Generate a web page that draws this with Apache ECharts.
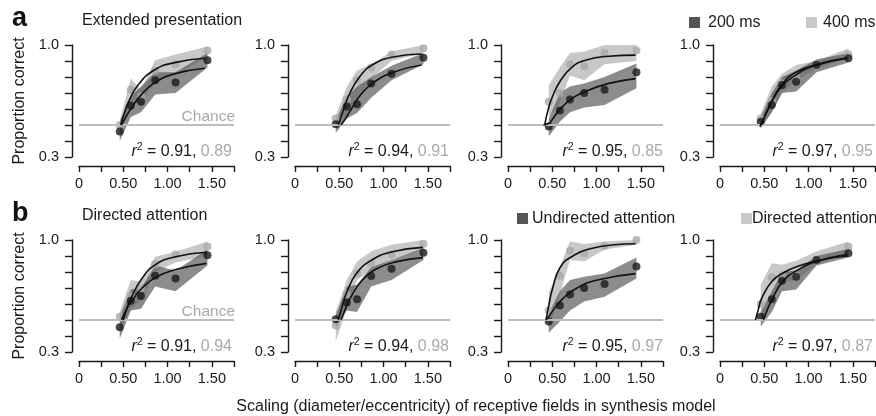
<!DOCTYPE html>
<html>
<head>
<meta charset="utf-8">
<script src="https://cdn.jsdelivr.net/npm/echarts@6/dist/echarts.min.js"></script>
<style>
  html, body { margin: 0; padding: 0; background: #fff; }
  #chart { width: 876px; height: 416px; }
</style>
</head>
<body>
<div id="chart"></div>
<script>
// scaling values where the observers were tested (same for every panel)
var scaling = [0.46, 0.585, 0.70, 0.86, 1.09, 1.45];
var chance = 0.5;

// panels in order a1..a4, b1..b4 ; "dark" = 200 ms / undirected, "light" = 400 ms / directed
var darkPts = [
  [0.46, 0.62, 0.645, 0.78, 0.765, 0.905],
  [0.505, 0.615, 0.63, 0.76, 0.82, 0.92],
  [0.49, 0.59, 0.66, 0.70, 0.72, 0.83],
  [0.52, 0.625, 0.75, 0.77, 0.875, 0.917],
  [0.455, 0.62, 0.65, 0.777, 0.76, 0.904],
  [0.504, 0.61, 0.63, 0.775, 0.82, 0.92],
  [0.49, 0.59, 0.66, 0.70, 0.725, 0.835],
  [0.52, 0.63, 0.745, 0.77, 0.875, 0.917]
];
var darkHi = [
  [0.52, 0.68, 0.74, 0.83, 0.83, 0.95],
  [0.53, 0.68, 0.74, 0.80, 0.87, 0.95],
  [0.54, 0.70, 0.74, 0.76, 0.80, 0.885],
  [0.55, 0.70, 0.80, 0.84, 0.91, 0.95],
  [0.52, 0.69, 0.70, 0.84, 0.81, 0.94],
  [0.53, 0.71, 0.72, 0.83, 0.875, 0.95],
  [0.54, 0.68, 0.75, 0.77, 0.79, 0.89],
  [0.55, 0.68, 0.80, 0.81, 0.90, 0.945]
];
var darkLo = [
  [0.40, 0.55, 0.58, 0.69, 0.70, 0.86],
  [0.45, 0.54, 0.575, 0.67, 0.78, 0.88],
  [0.43, 0.52, 0.58, 0.61, 0.625, 0.73],
  [0.48, 0.58, 0.70, 0.71, 0.83, 0.89],
  [0.385, 0.56, 0.57, 0.71, 0.68, 0.84],
  [0.46, 0.56, 0.55, 0.71, 0.75, 0.875],
  [0.42, 0.49, 0.56, 0.615, 0.645, 0.76],
  [0.46, 0.55, 0.68, 0.69, 0.84, 0.89]
];
var lightPts = [
  [0.50, 0.72, 0.68, 0.84, 0.88, 0.965],
  [0.54, 0.66, 0.78, 0.86, 0.94, 0.98],
  [0.645, 0.70, 0.88, 0.865, 0.95, 0.965],
  [0.54, 0.65, 0.76, 0.80, 0.87, 0.94],
  [0.52, 0.65, 0.70, 0.85, 0.91, 0.96],
  [0.465, 0.66, 0.79, 0.855, 0.91, 0.977],
  [0.56, 0.777, 0.933, 0.917, 0.962, 1.0],
  [0.60, 0.765, 0.78, 0.78, 0.875, 0.958]
];
var lightHi = [
  [0.53, 0.79, 0.72, 0.905, 0.94, 0.99],
  [0.56, 0.74, 0.84, 0.88, 0.96, 1.0],
  [0.75, 0.86, 0.95, 0.96, 1.0, 1.0],
  [0.57, 0.74, 0.82, 0.875, 0.90, 0.98],
  [0.55, 0.75, 0.74, 0.896, 0.927, 0.99],
  [0.55, 0.75, 0.865, 0.93, 0.97, 1.0],
  [0.67, 0.83, 0.99, 0.975, 0.99, 1.0],
  [0.72, 0.854, 0.845, 0.87, 0.93, 0.99]
];
var lightLo = [
  [0.46, 0.63, 0.64, 0.77, 0.81, 0.93],
  [0.48, 0.56, 0.66, 0.79, 0.90, 0.95],
  [0.55, 0.64, 0.81, 0.78, 0.88, 0.90],
  [0.48, 0.58, 0.70, 0.78, 0.85, 0.92],
  [0.43, 0.57, 0.62, 0.80, 0.86, 0.90],
  [0.365, 0.57, 0.75, 0.81, 0.875, 0.94],
  [0.45, 0.66, 0.875, 0.865, 0.94, 0.97],
  [0.49, 0.62, 0.73, 0.75, 0.85, 0.92]
];
// fitted curves as [scaling, proportion]
var darkFit = [
  [[0.48, 0.50], [0.53, 0.55], [0.59, 0.605], [0.705, 0.69], [0.856, 0.765], [1.08, 0.82], [1.42, 0.855]],
  [[0.52, 0.50], [0.57, 0.54], [0.62, 0.585], [0.735, 0.685], [0.885, 0.765], [1.11, 0.83], [1.43, 0.875]],
  [[0.40, 0.50], [0.46, 0.51], [0.50, 0.535], [0.59, 0.60], [0.72, 0.665], [0.875, 0.71], [1.14, 0.76], [1.44, 0.79]],
  [[0.45, 0.49], [0.51, 0.56], [0.577, 0.635], [0.68, 0.73], [0.85, 0.81], [1.07, 0.87], [1.44, 0.917]],
  [[0.48, 0.50], [0.53, 0.56], [0.59, 0.615], [0.705, 0.695], [0.86, 0.765], [1.09, 0.815], [1.44, 0.854]],
  [[0.52, 0.50], [0.57, 0.57], [0.622, 0.635], [0.754, 0.745], [0.924, 0.82], [1.15, 0.865], [1.444, 0.89]],
  [[0.43, 0.50], [0.47, 0.53], [0.516, 0.565], [0.63, 0.64], [0.78, 0.70], [1.01, 0.75], [1.44, 0.79]],
  [[0.49, 0.50], [0.535, 0.565], [0.585, 0.625], [0.70, 0.735], [0.87, 0.81], [1.09, 0.865], [1.44, 0.91]]
];
var lightFit = [
  [[0.47, 0.50], [0.51, 0.57], [0.555, 0.64], [0.667, 0.75], [0.856, 0.845], [1.08, 0.89], [1.42, 0.917]],
  [[0.49, 0.50], [0.55, 0.60], [0.62, 0.70], [0.735, 0.805], [0.885, 0.88], [1.11, 0.925], [1.43, 0.944]],
  [[0.415, 0.50], [0.45, 0.59], [0.50, 0.675], [0.59, 0.775], [0.72, 0.86], [0.875, 0.905], [1.14, 0.93], [1.44, 0.937]],
  [[0.47, 0.50], [0.52, 0.575], [0.58, 0.645], [0.70, 0.755], [0.86, 0.83], [1.10, 0.88], [1.44, 0.92]],
  [[0.50, 0.50], [0.54, 0.57], [0.59, 0.64], [0.705, 0.755], [0.86, 0.845], [1.09, 0.895], [1.44, 0.923]],
  [[0.49, 0.50], [0.53, 0.58], [0.585, 0.675], [0.70, 0.795], [0.867, 0.875], [1.086, 0.925], [1.444, 0.954]],
  [[0.43, 0.50], [0.46, 0.59], [0.50, 0.69], [0.59, 0.83], [0.745, 0.905], [0.93, 0.945], [1.2, 0.97], [1.44, 0.977]],
  [[0.40, 0.50], [0.43, 0.56], [0.47, 0.635], [0.585, 0.74], [0.716, 0.795], [0.905, 0.84], [1.13, 0.875], [1.44, 0.90]]
];
var r2Dark = ['0.91', '0.94', '0.95', '0.97', '0.91', '0.94', '0.95', '0.97'];
var r2Light = ['0.89', '0.91', '0.85', '0.95', '0.94', '0.98', '0.97', '0.87'];
var rowTitles = ['Extended presentation', 'Directed attention'];
var rowLetters = ['a', 'b'];
var legendNames = [['200 ms', '400 ms'], ['Undirected attention', 'Directed attention']];

var FONT = '"Liberation Sans", Arial, Helvetica, sans-serif';
var INK = '#1a1a1a';
var GRAY = '#a9a9a9';
var colLeft = [79, 295, 508, 720];
var rowTop = [45, 240];

var chart = echarts.init(document.getElementById('chart'));

function bandShape(params, api) {
  if (params.dataIndexInside !== 0) return null;
  var upper = [], lower = [];
  for (var i = 0; i < params.dataInsideLength; i++) {
    upper.push(api.coord([api.value(0, i), api.value(2, i)]));
    lower.unshift(api.coord([api.value(0, i), api.value(1, i)]));
  }
  return { type: 'polygon', shape: { points: upper.concat(lower) }, style: { fill: api.visual('color') } };
}

function pairs(ys) {
  return scaling.map(function (x, i) { return [x, ys[i]]; });
}

var grids = [], xAxes = [], yAxes = [], series = [], graphics = [];
var axisLine = { show: true, onZero: false, lineStyle: { color: INK, width: 1.4 } };

for (var p = 0; p < 8; p++) {
  var row = Math.floor(p / 4), col = p % 4;
  grids.push({ left: colLeft[col], top: rowTop[row], width: 155, height: 112, containLabel: false, outerBoundsMode: 'none' });
  xAxes.push({
    gridIndex: p, type: 'value', min: 0, max: 1.75, interval: 0.25, offset: 9,
    axisLine: axisLine,
    axisTick: { show: true, length: 6, lineStyle: { color: INK, width: 1.4 } },
    splitLine: { show: false },
    axisLabel: {
      margin: 10, fontSize: 14.5, color: INK, fontFamily: FONT,
      formatter: function (v) {
        var k = Math.round(v * 100);
        if (k % 50 !== 0) return '';
        return k === 0 ? '0' : (k / 100).toFixed(2);
      }
    }
  });
  yAxes.push({
    gridIndex: p, type: 'value', min: 0.3, max: 1.0, interval: 0.1, offset: 7,
    axisLine: axisLine,
    axisTick: { show: true, length: 7, lineStyle: { color: INK, width: 1.4 } },
    splitLine: { show: false },
    axisLabel: {
      margin: 13, fontSize: 14.5, color: INK, fontFamily: FONT,
      formatter: function (v) {
        if (Math.abs(v - 1) < 1e-6) return '1.0';
        if (Math.abs(v - 0.3) < 1e-6) return '0.3';
        return '';
      }
    }
  });

  series.push({
    type: 'line', xAxisIndex: p, yAxisIndex: p, silent: true, symbol: 'none',
    data: [[0, chance], [1.75, chance]],
    lineStyle: { color: '#bdbdbd', width: 2 }
  });
  series.push({
    type: 'custom', xAxisIndex: p, yAxisIndex: p, renderItem: bandShape,
    encode: { x: 0, y: [1, 2] },
    itemStyle: { color: 'rgba(195,195,195,0.92)' },
    data: scaling.map(function (x, i) { return [x, lightLo[p][i], lightHi[p][i]]; })
  });
  series.push({
    type: 'custom', xAxisIndex: p, yAxisIndex: p, renderItem: bandShape,
    encode: { x: 0, y: [1, 2] },
    itemStyle: { color: 'rgba(85,85,85,0.68)' },
    data: scaling.map(function (x, i) { return [x, darkLo[p][i], darkHi[p][i]]; })
  });
  [lightFit[p], darkFit[p]].forEach(function (fit) {
    series.push({
      type: 'line', xAxisIndex: p, yAxisIndex: p, smooth: 0.5,
      symbol: 'none', data: fit, lineStyle: { color: '#111', width: 1.6 }
    });
  });
  series.push({
    type: 'scatter', xAxisIndex: p, yAxisIndex: p, symbolSize: 8,
    itemStyle: { color: GRAY }, data: pairs(lightPts[p])
  });
  series.push({
    type: 'scatter', xAxisIndex: p, yAxisIndex: p, symbolSize: 8,
    itemStyle: { color: INK }, data: pairs(darkPts[p])
  });

  graphics.push({
    type: 'text', x: [232, 449, 663, 873][col], y: [152, 347][row],
    style: {
      text: '{i|r}{s|2}{k| = ' + r2Dark[p] + ', }{g|' + r2Light[p] + '}',
      align: 'right', verticalAlign: 'middle',
      rich: {
        i: { fontFamily: FONT, fontSize: 16, fontStyle: 'italic', fill: INK, lineHeight: 20 },
        s: { fontFamily: FONT, fontSize: 10.5, fill: INK, verticalAlign: 'top', lineHeight: 12 },
        k: { fontFamily: FONT, fontSize: 16, fill: INK, lineHeight: 20 },
        g: { fontFamily: FONT, fontSize: 16, fill: GRAY, lineHeight: 20 }
      }
    }
  });
}

for (var r = 0; r < 2; r++) {
  var base = rowTop[r];
  graphics.push({ type: 'text', x: 12, y: base - 26, style: { text: rowLetters[r], fontFamily: FONT, fontSize: 27, fontWeight: 'bold', fill: '#111', verticalAlign: 'middle' } });
  graphics.push({ type: 'text', x: 82, y: base - 24, style: { text: rowTitles[r], fontFamily: FONT, fontSize: 16, fill: INK, verticalAlign: 'middle' } });
  graphics.push({ type: 'text', x: 20, y: base + 56, rotation: Math.PI / 2, style: { text: 'Proportion correct', fontFamily: FONT, fontSize: 16, fill: INK, align: 'center', verticalAlign: 'middle' } });
  graphics.push({ type: 'text', x: 235, y: base + 72, style: { text: 'Chance', fontFamily: FONT, fontSize: 15.5, fill: GRAY, align: 'right', verticalAlign: 'middle' } });
}

// legend swatches
var legendBoxes = [
  [689, 17, '#555555', legendNames[0][0], 708],
  [806, 17, '#c8c8c8', legendNames[0][1], 823],
  [517, 213, '#555555', legendNames[1][0], 532],
  [741, 213, '#c8c8c8', legendNames[1][1], 752]
];
legendBoxes.forEach(function (b) {
  graphics.push({ type: 'rect', shape: { x: b[0], y: b[1], width: 11, height: 11 }, style: { fill: b[2] } });
  graphics.push({ type: 'text', x: b[4], y: b[1] + 5.5, style: { text: b[3], fontFamily: FONT, fontSize: 16, fill: INK, verticalAlign: 'middle' } });
});

graphics.push({
  type: 'text', x: 476, y: 407,
  style: { text: 'Scaling (diameter/eccentricity) of receptive fields in synthesis model', fontFamily: FONT, fontSize: 16, fill: INK, align: 'center', verticalAlign: 'middle' }
});

chart.setOption({
  animation: false,
  backgroundColor: '#fff',
  grid: grids,
  xAxis: xAxes,
  yAxis: yAxes,
  series: series,
  graphic: graphics
});
</script>
</body>
</html>
